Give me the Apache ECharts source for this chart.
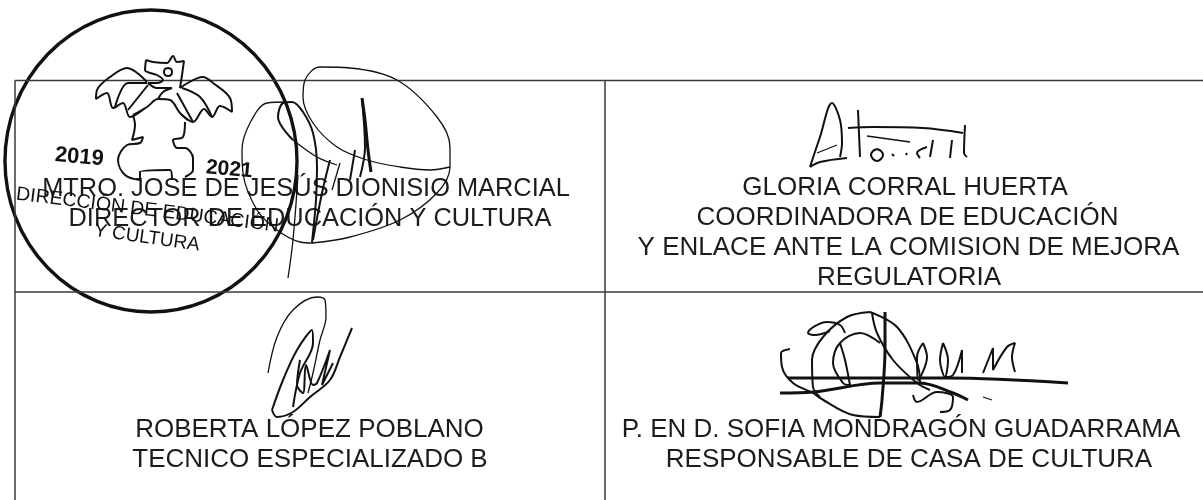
<!DOCTYPE html>
<html>
<head>
<meta charset="utf-8">
<title>Firmas</title>
<script src="https://cdn.jsdelivr.net/npm/echarts@6/dist/echarts.min.js"></script>
<style>
html,body{margin:0;padding:0;background:#fff;}
#main{width:1203px;height:500px;}
</style>
</head>
<body>
<div id="main"></div>
<script>
// texto de las cuatro celdas
var cellTopLeft = ['MTRO. JOSE DE JESÚS DIONISIO MARCIAL', 'DIRECTOR DE EDUCACIÓN Y CULTURA'];
var cellTopRight = ['GLORIA CORRAL HUERTA', 'COORDINADORA DE EDUCACIÓN', 'Y ENLACE ANTE LA COMISION DE MEJORA', 'REGULATORIA'];
var cellBottomLeft = ['ROBERTA LÓPEZ POBLANO', 'TECNICO ESPECIALIZADO B'];
var cellBottomRight = ['P. EN D. SOFIA MONDRAGÓN GUADARRAMA', 'RESPONSABLE DE CASA DE CULTURA'];
var stampYears = ['2019', '2021'];
var stampLines = ['DIRECCIÓN DE EDUCACIÓN', 'Y CULTURA'];

// reglas de la tabla
var tableRows = [80.5, 292];
var tableCols = [15, 605];

// trazos a mano
var dragonHead = [[146,60],[153,62],[167,63],[173,56],[177,62],[184,61],[182,75],[180,88]];
var dragonJaw = [[146,60],[145,70],[157,75],[163,80],[157,83],[148,83],[157,88],[172,88],[163,92],[158,99]];
var dragonWingL = [[147,82],[127,68],[110,77],[97,90],[96,99],[107,93],[113,108],[123,103],[130,117],[145,108]];
var dragonRibL1 = [[115,107],[128,83],[147,83]];
var dragonRibL2 = [[148,85],[128,110]];
var dragonWingR = [[180,88],[203,77],[213,83],[230,98],[232,112],[220,106],[212,117],[204,109],[193,122],[182,115]];
var dragonRibR1 = [[177,93],[193,122]];
var dragonRibR2 = [[182,88],[200,97],[212,117]];
var dragonBack = [[133,115],[147,107],[158,99],[170,100],[180,113],[188,120]];
var dragonBodyL = [[133,115],[135,125],[132,140],[143,137],[140,143],[127,145],[118,160],[125,175],[140,180]];
var dragonBodyR = [[185,122],[183,137],[173,140],[177,148],[185,148],[193,158],[193,170],[185,177]];
var dragonTail = [[140,180],[140,172],[170,170],[172,180]];
var dragonEye = [[168,68],[171,69],[172,72],[171,75],[168,76],[165,75],[164,72],[165,69],[168,68]];

var sigOneOval = [[312,243],[350,237],[400,220],[437,193],[450,167],[450,147],[437,117],[397,80],[350,68],[320,67],[305,80],[303,97],[313,123],[337,147],[367,160],[400,167],[430,170],[450,167]];
var sigOneLeft = [[287,102],[267,103],[250,123],[242,150],[243,173],[257,210],[277,230],[300,242],[313,243]];
var sigOneLoop = [[293,140],[278,117],[283,103],[292,102],[303,112],[313,133],[317,167],[316,200],[312,242]];
var sigOneBack = [[293,140],[317,157],[337,165]];
var sigOneTail = [[298,175],[293,240],[288,278]];
var sigOneTick = [[362,98],[365,120],[368,150],[371,172]];
var sigOneTick2 = [[362,100],[365,147],[360,177]];
var sigOneS1 = [[330,160],[322,193],[313,240]];
var sigOneS2 = [[340,163],[332,190]];
var sigOneS3 = [[355,150],[350,180]];

var sigTwoA = [[810,167],[820,137],[832,103],[840,120],[842,143],[840,157]];
var sigTwoBar = [[817,153],[837,145]];
var sigTwoBase = [[810,167],[820,162],[847,158]];
var sigTwoT = [[858,110],[860,157]];
var sigTwoTop = [[848,128],[873,127],[923,128],[963,133]];
var sigTwoIn = [[867,136],[910,142]];
var sigTwoO = [[877,149],[881,151],[883,155],[881,159],[877,161],[873,159],[871,155],[873,151],[877,149]];
var sigTwoDot1 = [[892,154],[894,156]];
var sigTwoDot2 = [[906,153],[907,155]];
var sigTwoD = [[927,147],[917,153],[920,158]];
var sigTwoL1 = [[933,140],[930,157]];
var sigTwoL2 = [[952,140],[950,158]];
var sigTwoL3 = [[965,125],[964,153],[967,157]];

var sigThreeOuter = [[268,373],[277,337],[293,310],[317,297],[325,300],[326,317],[320,340],[313,373],[308,393]];
var sigThreeInner = [[272,410],[283,380],[297,350],[312,330],[313,343],[300,373],[293,407]];
var sigThreeLow = [[272,410],[277,417],[293,412],[310,397],[330,380],[340,357],[352,328]];
var sigThreeM = [[300,360],[297,385],[303,393],[306,365],[313,385],[317,383],[330,350],[322,385],[333,363]];

var sigFourLine = [[788,378],[860,378],[947,378],[1068,383]];
var sigFourLow = [[780,393],[813,392],[880,383],[920,383],[953,393],[968,400]];
var sigFourCurl = [[790,349],[781,353],[782,367],[793,383],[813,393],[820,398],[853,415],[880,417]];
var sigFourHook = [[845,333],[840,325],[827,322],[808,333],[815,335],[830,331]];
var sigFourBig = [[870,312],[847,317],[823,337],[812,360],[813,387],[820,397]];
var sigFourIn = [[880,343],[860,333],[840,343],[833,363],[843,383],[850,385],[845,360],[840,343]];
var sigFourArc = [[870,312],[897,327],[917,363],[920,383]];
var sigFourV = [[885,312],[885,350],[882,400],[880,417]];
var sigFourDiag = [[872,313],[877,333],[893,360],[917,383],[930,390]];
var sigFourL1 = [[923,343],[917,357],[918,380],[927,357],[923,343]];
var sigFourL2 = [[943,343],[940,360],[945,377],[948,360],[943,343]];
var sigFourU = [[945,377],[953,375],[962,350],[962,373]];
var sigFourM = [[983,373],[993,348],[993,370],[1007,347],[1015,343],[1012,357],[1015,372]];
var sigFourS = [[913,395],[917,402],[937,392],[953,397],[950,410],[940,412]];
var sigFourDash = [[983,397],[992,400]];

var thinInk = [sigOneOval, sigOneLeft, sigOneBack, sigOneTail, sigOneS2, sigThreeOuter, sigTwoBar, sigTwoIn, sigFourDash];
var midInk = [dragonHead, dragonJaw, dragonWingL, dragonRibL1, dragonRibL2, dragonWingR, dragonRibR1, dragonRibR2, dragonBack, dragonBodyL, dragonBodyR, dragonTail, dragonEye,
	sigOneLoop, sigOneS1, sigOneS3, sigOneTick2, sigTwoA, sigTwoBase, sigTwoT, sigTwoTop, sigTwoO, sigTwoDot1, sigTwoDot2, sigTwoD, sigTwoL1, sigTwoL2, sigTwoL3,
	sigThreeInner, sigThreeLow, sigThreeM, sigFourCurl, sigFourHook, sigFourBig, sigFourIn, sigFourArc, sigFourDiag, sigFourL1, sigFourL2, sigFourU, sigFourM, sigFourS];
var heavyInk = [sigOneTick, sigFourV, sigFourLine, sigFourLow];

function inkSeries(points, width) {
	return {
		type: 'line',
		data: points,
		smooth: 0.35,
		showSymbol: false,
		silent: true,
		clip: false,
		lineStyle: { color: '#111', width: width }
	};
}

function ruleSeries(points) {
	return {
		type: 'line',
		data: points,
		showSymbol: false,
		silent: true,
		lineStyle: { color: '#3a3a3a', width: 1.5 }
	};
}

// bloque de texto: una x de centro por linea, linea base de la primera linea
function textBlock(lines, centers, firstBase, size) {
	return lines.map(function(line, i) {
		return {
			type: 'text',
			x: centers[i],
			y: firstBase + i * 30,
			style: {
				text: line,
				font: size + 'px "Liberation Sans"',
				fill: '#1c1c1c',
				align: 'center',
				verticalAlign: 'bottom'
			}
		};
	});
}

function stampText(text, x, y, size, deg, weight) {
	return {
		type: 'text',
		x: x,
		y: y,
		rotation: -deg * Math.PI / 180,
		style: {
			text: text,
			font: weight + ' ' + size + 'px "Liberation Sans"',
			fill: '#111',
			align: 'left',
			verticalAlign: 'bottom'
		}
	};
}

var series = [];
tableRows.forEach(function(y) { series.push(ruleSeries([[tableCols[0], y], [1203, y]])); });
tableCols.forEach(function(x) { series.push(ruleSeries([[x, tableRows[0]], [x, 500]])); });
thinInk.forEach(function(s) { series.push(inkSeries(s, 1.3)); });
midInk.forEach(function(s) { series.push(inkSeries(s, 2)); });
heavyInk.forEach(function(s) { series.push(inkSeries(s, 3)); });

var texts = [].concat(
	textBlock(cellTopLeft, [306, 310], 201, 25.4),
	textBlock(cellTopRight, [905, 907.5, 908.5, 909], 201, 26),
	textBlock(cellBottomLeft, [309.5, 310], 443, 26),
	textBlock(cellBottomRight, [901, 909], 443, 26)
);
texts.push(stampText(stampYears[0], 54, 166, 22, 5, 'bold'));
texts.push(stampText(stampYears[1], 205, 178, 21, 5, 'bold'));
texts.push(stampText(stampLines[0], 15, 204, 19.5, 7, 'normal'));
texts.push(stampText(stampLines[1], 93, 240, 19, 8, 'normal'));
// sello redondo
texts.push({
	type: 'circle',
	x: 151,
	y: 161,
	scaleX: 0.967,
	shape: { cx: 0, cy: 0, r: 151 },
	style: { fill: 'none', stroke: '#111', lineWidth: 3.5 }
});

var myChart = echarts.init(document.getElementById('main'));
myChart.setOption({
	animation: false,
	backgroundColor: '#fff',
	grid: { left: 0, right: 0, top: 0, bottom: 0 },
	xAxis: { type: 'value', min: 0, max: 1203, show: false },
	yAxis: { type: 'value', min: 0, max: 500, inverse: true, show: false },
	series: series,
	graphic: texts
});
</script>
</body>
</html>
